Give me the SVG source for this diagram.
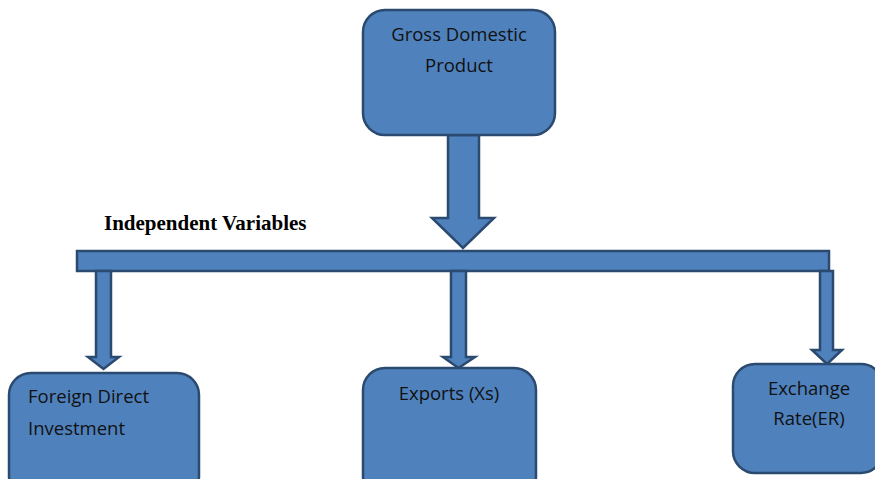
<svg xmlns="http://www.w3.org/2000/svg" width="875" height="479" viewBox="0 0 875 479">
<style>
.box{fill:#4F81BD;stroke:#2B4A6F;stroke-width:2.5}
.arr{fill:#4F81BD;stroke:#2B4A6F;stroke-width:2.5;stroke-linejoin:miter}
.t{font-family:"Open Sans","Liberation Sans",sans-serif;font-size:18.5px;fill:#111;text-anchor:middle}
.tl{font-family:"Open Sans","Liberation Sans",sans-serif;font-size:18.5px;fill:#111}
.h{font-family:"Liberation Serif",serif;font-size:21px;font-weight:bold;fill:#000}
</style>
<rect width="875" height="479" fill="#fff"/>
<g id="connectors">
<polygon class="arr" points="448,135 479,135 479,218 494,218 463,248 432,218 448,218"/>
<rect class="arr" x="77" y="251" width="752" height="20"/>
<polygon class="arr" points="96,271 111,271 111,357 119,357 103.5,369 88,357 96,357"/>
<polygon class="arr" points="451,271 466,271 466,357 475,357 458.5,368 443,357 451,357"/>
<polygon class="arr" points="820,271 833,271 833,350 842,350 827,364 812,350 820,350"/>
</g>
<g id="label-iv"><text class="h" x="104" y="230">Independent Variables</text></g>
<g id="gdp">
<rect class="box" x="363" y="10" width="192" height="125" rx="22"/>
<text class="t" x="459" y="41">Gross Domestic</text>
<text class="t" x="459" y="72">Product</text>
</g>
<g id="fdi">
<rect class="box" x="9" y="373" width="190" height="125" rx="22"/>
<text class="tl" x="28" y="403">Foreign Direct</text>
<text class="tl" x="28" y="435">Investment</text>
</g>
<g id="exports">
<rect class="box" x="363" y="368" width="173" height="130" rx="22"/>
<text class="t" x="449" y="400">Exports (Xs)</text>
</g>
<g id="er">
<rect class="box" x="733" y="364" width="150" height="109" rx="22"/>
<text class="t" x="809" y="395">Exchange</text>
<text class="t" x="809" y="425">Rate(ER)</text>
</g>
</svg>
